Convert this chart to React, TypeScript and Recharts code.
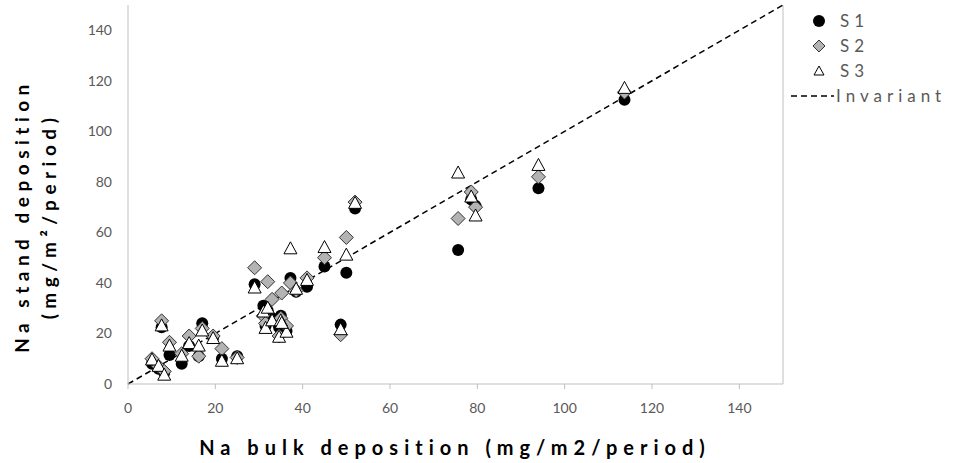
import { ScatterChart, Scatter, XAxis, YAxis, ReferenceLine } from "recharts";

// Na bulk deposition (x) shared by all three samples
const bulk = [5.5, 7, 8.3, 7.7, 9.5, 12.3, 14, 16.2, 17, 19.5, 21.5, 25, 29, 31, 32, 31.5, 33, 35, 34.6, 36.3, 37.2, 35.2, 38.5, 41, 45, 48.7, 50, 52, 75.6, 78.6, 79.6, 94, 113.7];
const s1 = [8, 6, 4.5, 22.5, 11.5, 8, 15, 11, 24, 18.5, 10, 11, 39.5, 31, 29, 23, 26, 27, 22.5, 21, 42, 22, 36.5, 38.5, 46.5, 23.5, 44, 69.5, 53, 73, 70.5, 77.5, 112.5];
const s2 = [10, 7, 5, 25, 16.5, 12, 19, 11, 22, 19, 14, 10.5, 46, 27, 40.5, 24, 33.5, 26, 19, 23, 40, 36, 37, 42, 50, 19.5, 58, 72, 65.5, 76, 70, 82, 115.5];
const s3 = [9.5, 7, 3.5, 23, 15, 11, 16, 15, 21, 18, 9, 10, 38, 28.5, 30, 22, 25, 25, 18.5, 20.5, 53.5, 24, 37.5, 41, 54, 21.5, 51, 71.5, 83.5, 74, 66.5, 86.5, 117];

const ticks = [0, 20, 40, 60, 80, 100, 120, 140];

const toPoints = (ys: number[]) => bulk.map((x, i) => ({ x, y: ys[i] }));

const FONT = "Lato, 'Open Sans', sans-serif";
const AXIS_GREY = "#bfbfbf";
const TEXT_GREY = "#595959";

const Circle = (p: any) => <circle cx={p.cx} cy={p.cy} r={6} fill="#000" />;

const Diamond = (p: any) => {
  const d = 7;
  return (
    <path
      d={`M${p.cx},${p.cy - d}L${p.cx + d},${p.cy}L${p.cx},${p.cy + d}L${p.cx - d},${p.cy}Z`}
      fill="#b3b3b3"
      stroke="#333"
      strokeWidth={1}
    />
  );
};

const Triangle = (p: any) => (
  <path
    d={`M${p.cx},${p.cy - 7}L${p.cx + 6.5},${p.cy + 5}L${p.cx - 6.5},${p.cy + 5}Z`}
    fill="#fff"
    stroke="#000"
    strokeWidth={1}
  />
);

const YTitle = () => (
  <g fontFamily={FONT} fontWeight={700} fontSize={19} fill="#000" letterSpacing={5.5}>
    <text x={21} y={216} textAnchor="middle" dominantBaseline="central" transform="rotate(-90 21 216)">
      Na stand deposition
    </text>
    <text x={48} y={216} textAnchor="middle" dominantBaseline="central" transform="rotate(-90 48 216)">
      (mg/m²/period)
    </text>
  </g>
);

const XTitle = () => (
  <text
    x={455}
    y={447}
    textAnchor="middle"
    dominantBaseline="central"
    fontFamily={FONT}
    fontWeight={700}
    fontSize={20}
    letterSpacing={6}
    fill="#000"
  >
    Na bulk deposition (mg/m2/period)
  </text>
);

function LegendBox() {
  const row = { display: "flex", alignItems: "center", height: 25 } as const;
  const label = { fontFamily: FONT, fontSize: 17, color: TEXT_GREY, letterSpacing: 5 } as const;
  return (
    <div style={{ position: "absolute", left: 790, top: 8 }}>
      <div style={row}>
        <svg width={50} height={20}>
          <circle cx={29} cy={10} r={6} fill="#000" />
        </svg>
        <span style={label}>S1</span>
      </div>
      <div style={row}>
        <svg width={50} height={20}>
          <path d="M29,4L35,10L29,16L23,10Z" fill="#b3b3b3" stroke="#333" />
        </svg>
        <span style={label}>S2</span>
      </div>
      <div style={row}>
        <svg width={50} height={20}>
          <path d="M29,5L34,14L24,14Z" fill="#fff" stroke="#000" />
        </svg>
        <span style={label}>S3</span>
      </div>
      <div style={row}>
        <svg width={46} height={20}>
          <line x1={1} y1={10} x2={44} y2={10} stroke="#000" strokeDasharray="6 4" strokeWidth={1.3} />
        </svg>
        <span style={label}>Invariant</span>
      </div>
    </div>
  );
}

export default function App() {
  return (
    <div style={{ position: "absolute", left: 0, top: 0, width: 954, height: 463, background: "#fff" }}>
      <ScatterChart width={954} height={463} margin={{ top: 5, right: 171, bottom: 0, left: 0 }}>
        <XAxis
          type="number"
          dataKey="x"
          domain={[0, 150]}
          ticks={ticks}
          allowDataOverflow
          height={79}
          stroke={AXIS_GREY}
          tickSize={5}
          tickMargin={14}
          tick={{ fill: TEXT_GREY, fontSize: 14, fontFamily: FONT }}
          label={{ content: () => <XTitle /> }}
        />
        <YAxis
          type="number"
          dataKey="y"
          domain={[0, 150]}
          ticks={ticks}
          allowDataOverflow
          width={128}
          stroke={AXIS_GREY}
          tickLine={false}
          tickSize={0}
          tickMargin={16}
          tick={{ fill: TEXT_GREY, fontSize: 14, fontFamily: FONT }}
          label={{ content: () => <YTitle /> }}
        />
        <ReferenceLine x={150} stroke={AXIS_GREY} ifOverflow="extendDomain" />
        <ReferenceLine
          segment={[{ x: 0, y: 0 }, { x: 150, y: 150 }]}
          stroke="#000"
          strokeWidth={1.5}
          strokeDasharray="6 4"
        />
        <Scatter name="S1" data={toPoints(s1)} shape={Circle} isAnimationActive={false} />
        <Scatter name="S2" data={toPoints(s2)} shape={Diamond} isAnimationActive={false} />
        <Scatter name="S3" data={toPoints(s3)} shape={Triangle} isAnimationActive={false} />
      </ScatterChart>
      <LegendBox />
    </div>
  );
}
